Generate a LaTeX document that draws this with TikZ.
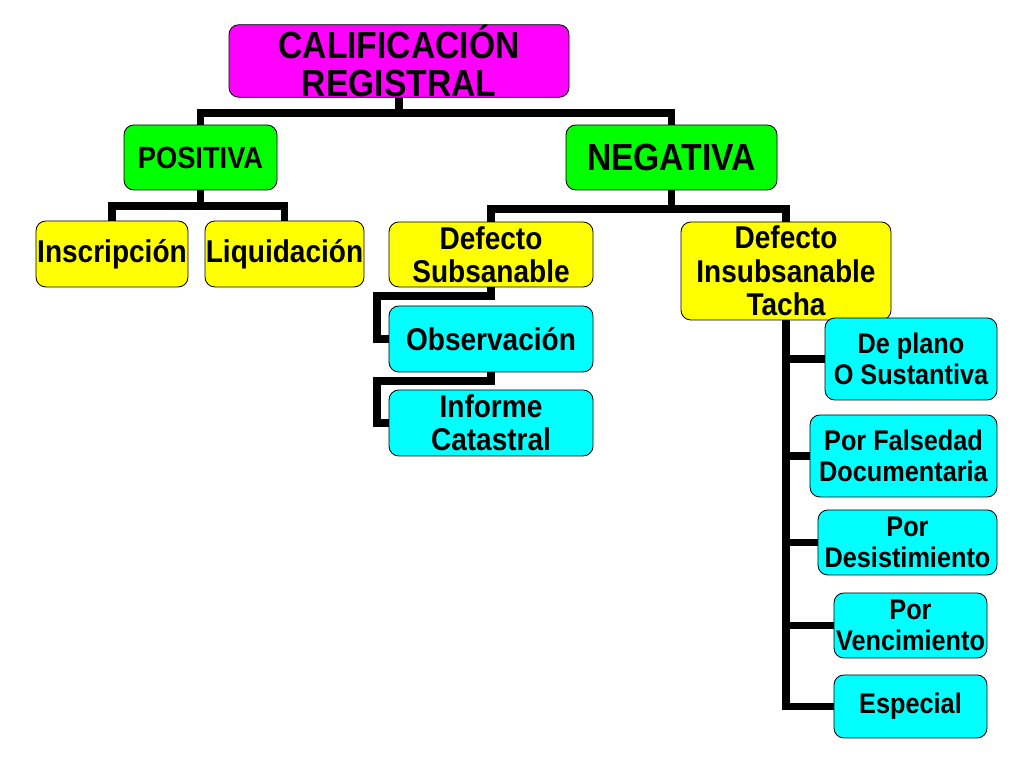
\documentclass[tikz,border=0pt]{standalone}
\usepackage{fontspec}
\setmainfont{Liberation Sans}[FakeStretch=0.89]
\definecolor{calmag}{RGB}{255,0,255}
\definecolor{calgreen}{RGB}{0,255,0}
\definecolor{calyellow}{RGB}{255,255,0}
\definecolor{calcyan}{RGB}{0,255,255}
\def\topsize{\bfseries\fontsize{26.9}{27.5}\selectfont}
\def\negsize{\bfseries\fontsize{26.9}{27.5}\selectfont}
\def\possize{\bfseries\fontsize{21.8}{23}\selectfont}
\def\midsize{\bfseries\fontsize{22.4}{23.8}\selectfont}
\def\rightsize{\bfseries\fontsize{20.2}{22}\selectfont}

\begin{document}
\begin{tikzpicture}[
	box/.style={draw=black, line width=0.6pt, rounded corners=7pt, inner sep=0pt, align=center},
	conn/.style={line width=5pt, line join=miter}
	]
		%%%%% START %%%%%
		\useasboundingbox (0, 0) rectangle (25.6, 19.2);
		
		\node[box, fill=calmag, minimum width=8.5cm, minimum height=1.6cm, font=\topsize] (cal) at (9.975, 17.675) {CALIFICACIÓN\\REGISTRAL};
		
		\node[box, fill=calgreen, minimum width=3.825cm, minimum height=1.625cm, font=\possize] (pos) at (5.0125, 15.2625) {POSITIVA};
		\node[box, fill=calgreen, minimum width=5.275cm, minimum height=1.625cm, font=\negsize] (neg) at (16.7875, 15.2625) {NEGATIVA};
		
		\node[box, fill=calyellow, minimum width=3.8cm, minimum height=1.65cm, font=\midsize] (ins) at (2.8, 12.85) {Inscripción};
		\node[box, fill=calyellow, minimum width=3.975cm, minimum height=1.65cm, font=\midsize] (liq) at (7.1125, 12.85) {Liquidación};
		\node[box, fill=calyellow, minimum width=5.1cm, minimum height=1.625cm, font=\midsize] (sub) at (12.275, 12.8375) {Defecto\\Subsanable};
		\node[box, fill=calyellow, minimum width=5.25cm, minimum height=2.45cm, font=\midsize] (insub) at (19.65, 12.425) {Defecto\\Insubsanable\\Tacha};
		
		\node[box, fill=calcyan, minimum width=5.1cm, minimum height=1.65cm, font=\midsize] (obs) at (12.275, 10.725) {Observación};
		\node[box, fill=calcyan, minimum width=5.1cm, minimum height=1.65cm, font=\midsize] (inf) at (12.275, 8.625) {Informe\\Catastral};
		
		\node[box, fill=calcyan, minimum width=4.3cm, minimum height=2.05cm, font=\rightsize] (plano) at (22.775, 10.225) {De plano\\O Sustantiva};
		\node[box, fill=calcyan, minimum width=4.675cm, minimum height=2.05cm, font=\rightsize] (fals) at (22.5875, 7.8) {Por Falsedad\\Documentaria};
		\node[box, fill=calcyan, minimum width=4.475cm, minimum height=1.625cm, font=\rightsize] (desis) at (22.6875, 5.6375) {Por\\Desistimiento};
		\node[box, fill=calcyan, minimum width=3.825cm, minimum height=1.625cm, font=\rightsize] (venc) at (22.7625, 3.5625) {Por\\Vencimiento};
		\node[box, fill=calcyan, minimum width=3.825cm, minimum height=1.575cm, font=\rightsize] (esp) at (22.7625, 1.5375) {Especial};
		
		% connectors
		\coordinate (calbar) at (9.975, 16.375);
		\draw[conn] (cal.south) -- (calbar);
		\draw[conn] (pos.north) |- (calbar) -| (neg.north);
		
		\coordinate (posbar) at (5.0125, 14.05);
		\draw[conn] (pos.south) -- (posbar);
		\draw[conn] (ins.north) |- (posbar) -| (liq.north);
		
		\coordinate (negbar) at (16.7875, 13.975);
		\draw[conn] (neg.south) -- (negbar);
		\draw[conn] (sub.north) |- (negbar) -| (insub.north);
		
		\coordinate (subbar) at (9.425, 11.8);
		\draw[conn] (sub.south) |- (subbar) |- (obs.west);
		\coordinate (obsbar) at (9.425, 9.675);
		\draw[conn] (obs.south) |- (obsbar) |- (inf.west);
		
		\draw[conn] (insub.south) |- (esp.west);
		\foreach \n in {plano, fals, desis, venc}
			\draw[conn] (insub.south |- \n.west) -- (\n.west);
		%%%%% END %%%%%
\end{tikzpicture}
\end{document}
